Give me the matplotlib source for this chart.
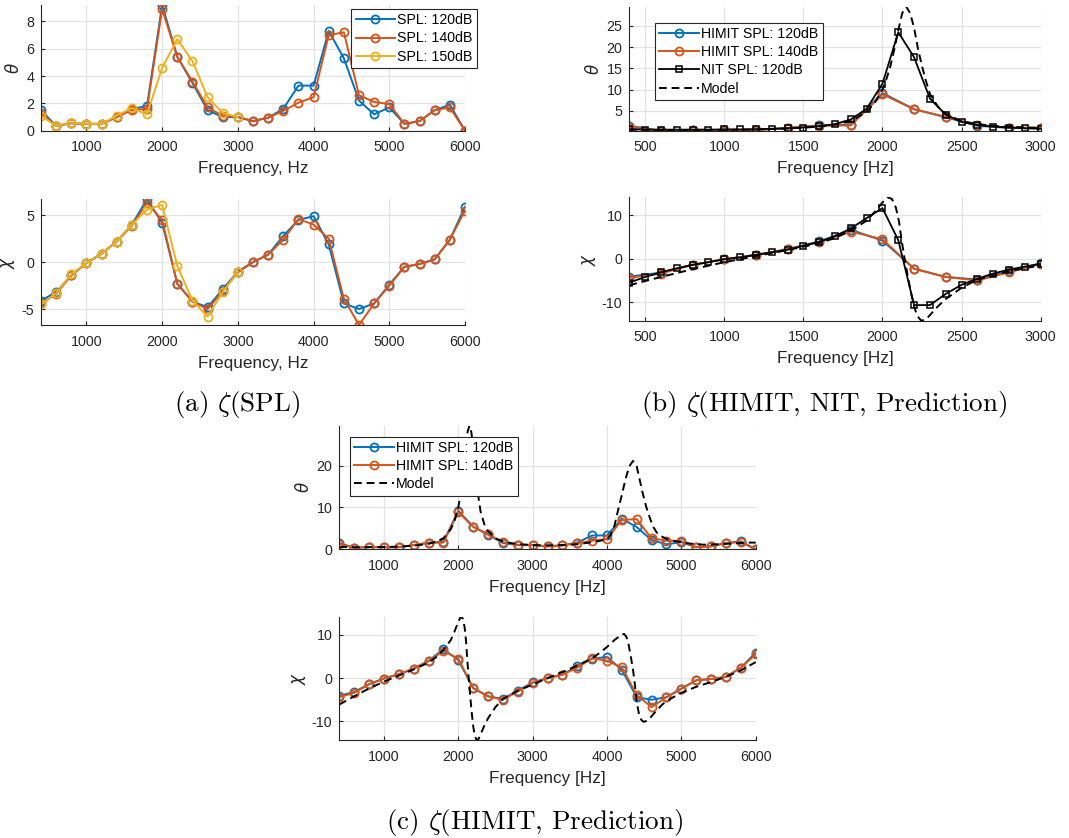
import numpy as np
import matplotlib
matplotlib.use('Agg')
import matplotlib.pyplot as plt

# ---------------- data ----------------
freq = [400, 600, 800, 1000, 1200, 1400, 1600, 1800, 2000, 2200, 2400, 2600, 2800, 3000,
        3200, 3400, 3600, 3800, 4000, 4200, 4400, 4600, 4800, 5000, 5200, 5400, 5600, 5800, 6000]

theta_120 = [1.5, 0.35, 0.55, 0.5, 0.5, 1.0, 1.6, 1.8, 9.2, 5.4, 3.5, 1.5, 1.0, 1.0,
             0.7, 0.95, 1.6, 3.3, 3.3, 7.3, 5.3, 2.2, 1.2, 1.7, 0.5, 0.7, 1.5, 1.9, 0.0]
theta_140 = [1.3, 0.35, 0.55, 0.5, 0.5, 1.0, 1.5, 1.6, 8.9, 5.4, 3.6, 1.7, 1.1, 1.0,
             0.7, 0.95, 1.45, 2.05, 2.45, 7.0, 7.2, 2.6, 2.1, 1.95, 0.5, 0.7, 1.5, 1.7, 0.0]
chi_120 = [-4.1, -3.2, -1.4, -0.1, 0.9, 2.2, 4.0, 6.7, 4.2, -2.3, -4.2, -4.8, -2.9, -1.0,
           0.0, 0.8, 2.8, 4.5, 4.9, 1.9, -4.4, -5.0, -4.4, -2.4, -0.5, -0.2, 0.3, 2.4, 5.9]
chi_140 = [-4.4, -3.4, -1.4, -0.1, 0.9, 2.2, 3.9, 6.3, 4.5, -2.3, -4.2, -5.0, -3.1, -1.1,
           0.0, 0.8, 2.4, 4.6, 4.0, 2.5, -3.9, -6.7, -4.4, -2.5, -0.5, -0.2, 0.3, 2.4, 5.5]

freq_150 = [400, 600, 800, 1000, 1200, 1400, 1600, 1800, 2000, 2200, 2400, 2600, 2800, 3000]
theta_150 = [1.1, 0.35, 0.6, 0.5, 0.5, 1.1, 1.65, 1.2, 4.6, 6.7, 5.1, 2.45, 1.3, 1.0]
chi_150 = [-4.5, -3.3, -1.3, -0.1, 0.9, 2.2, 4.0, 5.6, 6.1, -0.4, -4.1, -5.8, -3.2, -1.0]

freq_nit = [400, 500, 600, 700, 800, 900, 1000, 1100, 1200, 1300, 1400, 1500, 1600, 1700,
            1800, 1900, 2000, 2100, 2200, 2300, 2400, 2500, 2600, 2700, 2800, 2900, 3000]
theta_nit = [0.7, 0.6, 0.6, 0.6, 0.6, 0.6, 0.65, 0.65, 0.7, 0.8, 0.9, 1.1, 1.4, 1.9,
             3.0, 5.5, 11.4, 23.5, 17.6, 7.9, 4.1, 2.4, 1.7, 1.3, 1.1, 0.9, 0.8]
chi_nit = [-5.5, -4.2, -3.1, -2.2, -1.4, -0.8, -0.1, 0.3, 0.9, 1.5, 2.1, 3.0, 3.9, 5.2,
           7.0, 9.4, 11.7, 4.3, -10.7, -10.7, -8.1, -6.0, -4.6, -3.4, -2.5, -1.8, -1.2]

freq_model_theta = [400, 600, 800, 1000, 1200, 1400, 1600, 1700, 1800, 1900, 1950, 2000, 2025,
                    2050, 2075, 2100, 2125, 2150, 2175, 2200, 2225, 2250, 2275, 2300, 2350,
                    2400, 2500, 2600, 2700, 2800, 3000, 3200, 3400, 3600, 3800, 3900, 4000,
                    4050, 4100, 4150, 4200, 4250, 4300, 4350, 4400, 4440, 4480, 4530, 4580,
                    4620, 4670, 4720, 4800, 4900, 5000, 5100, 5300, 5500, 5700, 5900, 6000]
theta_model = [0.6, 0.5, 0.5, 0.55, 0.65, 0.85, 1.3, 1.8, 2.6, 4.8, 6.8, 10.0, 12.5,
               15.5, 19.5, 24.0, 28.0, 29.5, 28.0, 24.5, 19.5, 15.5, 12.0, 9.0, 6.0,
               4.3, 2.6, 1.9, 1.5, 1.25, 1.0, 0.95, 1.0, 1.2, 1.7, 2.0, 2.4,
               3.5, 5.6, 9.4, 13.0, 16.8, 19.8, 21.1, 19.8, 16.6, 13.4, 10.0, 7.3,
               5.4, 4.0, 3.2, 2.5, 2.0, 1.7, 1.4, 1.1, 1.2, 1.4, 1.6, 1.6]

freq_model_chi = [400, 600, 800, 1000, 1200, 1400, 1600, 1700, 1800, 1900, 1950, 2000, 2035,
                  2060, 2085, 2105, 2120, 2140, 2160, 2180, 2200, 2220, 2245, 2275, 2300,
                  2350, 2400, 2500, 2600, 2800, 3000, 3200, 3400, 3600, 3800, 3900, 4000,
                  4100, 4200, 4230, 4260, 4290, 4320, 4350, 4375, 4400, 4430, 4460, 4490,
                  4530, 4580, 4650, 4750, 4850, 5000, 5200, 5400, 5600, 5800, 6000]
chi_model = [-6.1, -4.2, -2.4, -0.8, 0.6, 2.0, 3.6, 4.8, 6.5, 8.8, 10.8, 13.0, 14.2,
             13.8, 11.8, 8.5, 4.5, 0.0, -4.0, -7.8, -11.0, -13.2, -14.3, -14.0, -13.0,
             -11.0, -9.3, -6.7, -4.8, -2.9, -1.5, 0.0, 1.4, 2.9, 4.6, 5.8, 7.2,
             8.8, 10.1, 10.2, 9.6, 7.8, 5.0, 2.0, -1.5, -5.5, -8.3, -9.6, -10.1,
             -9.9, -9.2, -7.8, -6.0, -4.8, -3.4, -2.0, -0.9, 0.3, 1.8, 3.7]

labels_a = ['SPL: 120dB', 'SPL: 140dB', 'SPL: 150dB']
labels_b = ['HIMIT SPL: 120dB', 'HIMIT SPL: 140dB', 'NIT SPL: 120dB', 'Model']
labels_c = ['HIMIT SPL: 120dB', 'HIMIT SPL: 140dB', 'Model']

# ---------------- style ----------------
BLUE, ORANGE, YELLOW = '#0072BD', '#D95319', '#EDB120'
AX_COL = '#262626'
plt.rcParams['font.family'] = ['Liberation Sans', 'DejaVu Sans']
plt.rcParams['mathtext.fontset'] = 'dejavusans'
plt.rcParams['axes.unicode_minus'] = False

W, H = 1069, 838
fig = plt.figure(figsize=(W / 100, H / 100), dpi=100)


def px_axes(left, top, right, bottom):
    return fig.add_axes([left / W, 1 - bottom / H, (right - left) / W, (bottom - top) / H])


def style(ax, xlim, xticks, yticks, ylim, ylabel, xlabel):
    ax.set_xlim(*xlim)
    ax.set_ylim(*ylim)
    ax.set_xticks(xticks)
    ax.set_yticks(yticks)
    for s in ['top', 'right']:
        ax.spines[s].set_visible(False)
    for s in ['left', 'bottom']:
        ax.spines[s].set_color(AX_COL)
        ax.spines[s].set_linewidth(0.8)
    ax.tick_params(direction='in', length=3, width=0.8, colors=AX_COL, labelsize=10.3)
    ax.tick_params(axis='x', pad=7)
    ax.tick_params(axis='y', pad=5)
    ax.grid(True, color='#e3e3e3', linewidth=0.9)
    ax.set_axisbelow(True)
    ax.set_xlabel(xlabel, fontsize=12.3, color=AX_COL, labelpad=5)
    ax.set_ylabel(ylabel, fontsize=12, color=AX_COL, labelpad=3)


def tight(*series):
    vals = np.concatenate([np.asarray(s, float) for s in series])
    return vals.min(), vals.max()


def vis(x, y, lo, hi):
    x = np.asarray(x); y = np.asarray(y)
    m = (x >= lo) & (x <= hi)
    return y[m]


circ = dict(marker='o', markersize=5.8, markerfacecolor='none', markeredgewidth=1.3, linewidth=1.4)
sq = dict(marker='s', markersize=4.8, markerfacecolor='none', markeredgewidth=1.1, linewidth=1.3)
dash = dict(color='black', linestyle=(0, (4, 2.5)), linewidth=1.4)


def legend(ax, handles, labels, anchor, loc, fs):
    lg = ax.legend(handles, labels, loc=loc, bbox_to_anchor=anchor, bbox_transform=fig.transFigure,
                   borderaxespad=0, fontsize=fs, frameon=True, fancybox=False, framealpha=1,
                   edgecolor=AX_COL, handlelength=2.8, handletextpad=0.15, labelspacing=0.3,
                   borderpad=0.3)
    lg.get_frame().set_linewidth(0.8)
    return lg


# ---------------- (a) ----------------
ax = px_axes(41, 5, 465, 130.7)
h1, = ax.plot(freq, theta_120, color=BLUE, **circ)
h2, = ax.plot(freq, theta_140, color=ORANGE, **circ)
h3, = ax.plot(freq_150, theta_150, color=YELLOW, **circ)
style(ax, (400, 6000), range(1000, 6001, 1000), [0, 2, 4, 6, 8],
      tight(theta_120, theta_140, theta_150), r'$\theta$', 'Frequency, Hz')
legend(ax, [h1, h2, h3], labels_a, (477 / W, 1 - 9 / H), 'upper right', 10.2)

ax = px_axes(41, 199.3, 465, 325)
ax.plot(freq, chi_120, color=BLUE, **circ)
ax.plot(freq, chi_140, color=ORANGE, **circ)
ax.plot(freq_150, chi_150, color=YELLOW, **circ)
style(ax, (400, 6000), range(1000, 6001, 1000), [-5, 0, 5],
      tight(chi_120, chi_140, chi_150), r'$\chi$', 'Frequency, Hz')

# ---------------- (b) ----------------
ax = px_axes(629.3, 6.7, 1040.7, 130.7)
h1, = ax.plot(freq, theta_120, color=BLUE, **circ)
h2, = ax.plot(freq, theta_140, color=ORANGE, **circ)
h3, = ax.plot(freq_nit, theta_nit, color='black', **sq)
h4, = ax.plot(freq_model_theta, theta_model, **dash)
style(ax, (400, 3000), range(500, 3001, 500), [5, 10, 15, 20, 25],
      tight(vis(freq, theta_120, 400, 3000), vis(freq, theta_140, 400, 3000), theta_nit,
            vis(freq_model_theta, theta_model, 400, 3000)), r'$\theta$', 'Frequency [Hz]')
legend(ax, [h1, h2, h3, h4], labels_b, (655 / W, 1 - 22.7 / H), 'upper left', 10.2)

ax = px_axes(629.3, 197.3, 1040.7, 320.7)
ax.plot(freq, chi_120, color=BLUE, **circ)
ax.plot(freq, chi_140, color=ORANGE, **circ)
ax.plot(freq_nit, chi_nit, color='black', **sq)
ax.plot(freq_model_chi, chi_model, **dash)
style(ax, (400, 3000), range(500, 3001, 500), [-10, 0, 10],
      tight(vis(freq, chi_120, 400, 3000), vis(freq, chi_140, 400, 3000), chi_nit,
            vis(freq_model_chi, chi_model, 400, 3000)), r'$\chi$', 'Frequency [Hz]')

# ---------------- (c) ----------------
ax = px_axes(339.3, 425.7, 755.7, 549.3)
h1, = ax.plot(freq, theta_120, color=BLUE, **circ)
h2, = ax.plot(freq, theta_140, color=ORANGE, **circ)
h4, = ax.plot(freq_model_theta, theta_model, **dash)
style(ax, (400, 6000), range(1000, 6001, 1000), [0, 10, 20],
      tight(theta_120, theta_140, theta_model), r'$\theta$', 'Frequency [Hz]')
legend(ax, [h1, h2, h4], labels_c, (350 / W, 1 - 436.7 / H), 'upper left', 10.2)

ax = px_axes(339.3, 616.7, 755.7, 740)
ax.plot(freq, chi_120, color=BLUE, **circ)
ax.plot(freq, chi_140, color=ORANGE, **circ)
ax.plot(freq_model_chi, chi_model, **dash)
style(ax, (400, 6000), range(1000, 6001, 1000), [-10, 0, 10],
      tight(chi_120, chi_140, chi_model), r'$\chi$', 'Frequency [Hz]')

# ---------------- captions ----------------
cap = dict(fontsize=19.5, family='cmr10', math_fontfamily='cm', ha='center', va='center')
fig.text(237 / W, 1 - 404 / H, r'(a) $\zeta$(SPL)', **cap)
fig.text(824 / W, 1 - 404 / H, r'(b) $\zeta$(HIMIT, NIT, Prediction)', **cap)
fig.text(535 / W, 1 - 822 / H, r'(c) $\zeta$(HIMIT, Prediction)', **cap)

fig.savefig('out.png', dpi=100)
